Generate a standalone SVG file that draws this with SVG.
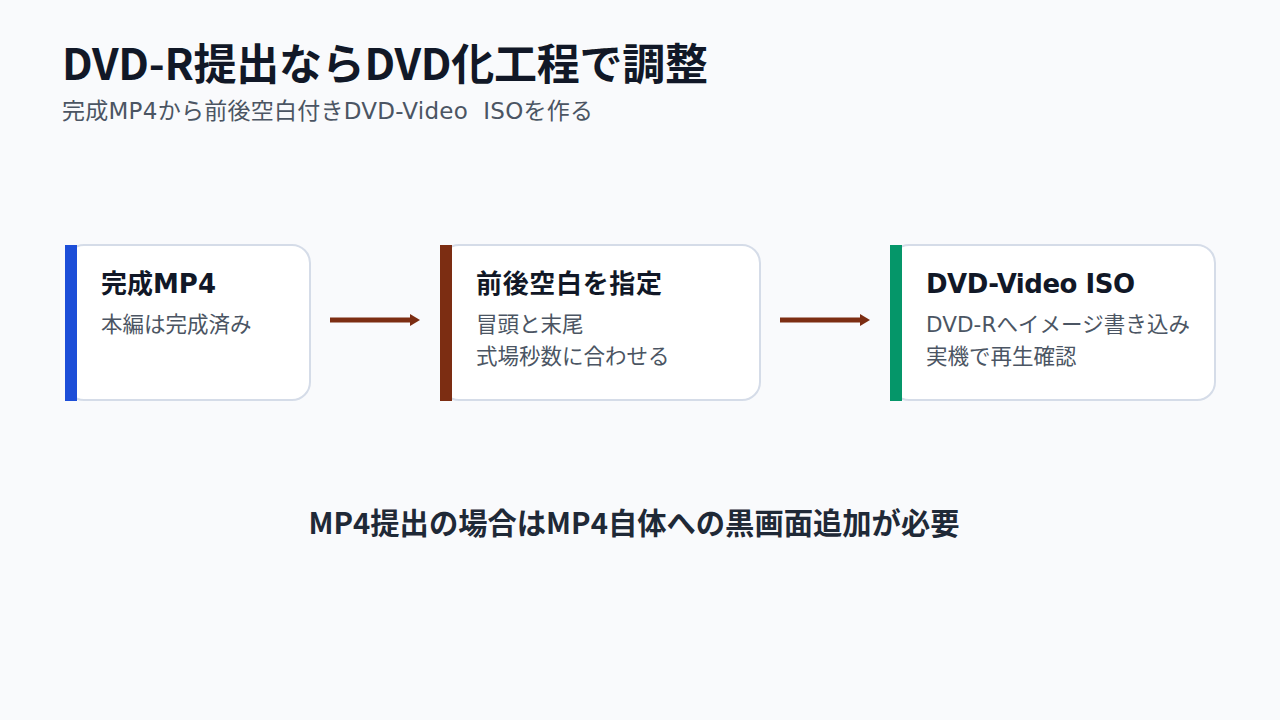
<svg xmlns="http://www.w3.org/2000/svg" width="1280" height="720" viewBox="0 0 1280 720">
<style>
text{font-family:"Noto Sans CJK JP","Noto Sans",sans-serif}
.title{font-size:43px;font-weight:700;fill:#111827}
.sub{font-family:"DejaVu Sans","Noto Sans CJK JP",sans-serif;font-size:23px;fill:#4b5563;white-space:pre}
.card{fill:#ffffff;stroke:#d5dce8;stroke-width:2}
.ht{font-family:"DejaVu Sans","Noto Sans CJK JP",sans-serif;font-size:26px;font-weight:700;fill:#111827}
.bt{font-family:"DejaVu Sans","Noto Sans CJK JP",sans-serif;font-size:21.5px;fill:#4b5563}
.note{font-size:29.3px;font-weight:700;fill:#1f2937}
.conn{stroke:#7c2d12;stroke-width:5;fill:none}
</style>
<defs>
<marker id="ah" markerWidth="2" markerHeight="2.4" refX="0" refY="1.2" orient="auto" markerUnits="strokeWidth" viewBox="0 0 2 2.4"><path d="M0,0L2,1.2L0,2.4z" fill="#7c2d12"/></marker>
</defs>
<rect width="1280" height="720" fill="#f9fafc"/>
<text class="title" x="62" y="80" textLength="646" lengthAdjust="spacing">DVD-R提出ならDVD化工程で調整</text>
<text class="sub" x="62" y="119" textLength="531" lengthAdjust="spacing">完成MP4から前後空白付きDVD-Video  ISOを作る</text>
<g id="node1">
<rect class="card" x="66" y="245" width="244" height="155" rx="18"/>
<rect x="65" y="245" width="12" height="156" fill="#1d4ed8"/>
<text class="ht" x="101" y="293">完成MP4</text>
<text class="bt" x="101" y="332">本編は完成済み</text>
</g>
<g id="node2">
<rect class="card" x="441" y="245" width="319" height="155" rx="18"/>
<rect x="440" y="245" width="12" height="156" fill="#7c2d12"/>
<text class="ht" x="476" y="293" textLength="186" lengthAdjust="spacing">前後空白を指定</text>
<text class="bt" x="476" y="332">冒頭と末尾</text>
<text class="bt" x="476" y="364">式場秒数に合わせる</text>
</g>
<g id="node3">
<rect class="card" x="891" y="245" width="324" height="155" rx="18"/>
<rect x="890" y="245" width="12" height="156" fill="#059669"/>
<text class="ht" x="926" y="293" textLength="209" lengthAdjust="spacing">DVD-Video ISO</text>
<text class="bt" x="926" y="332" textLength="264" lengthAdjust="spacing">DVD-Rへイメージ書き込み</text>
<text class="bt" x="926" y="364">実機で再生確認</text>
</g>
<g id="connectors">
<line class="conn" x1="330" y1="320" x2="410" y2="320" marker-end="url(#ah)"/>
<line class="conn" x1="780" y1="320" x2="860" y2="320" marker-end="url(#ah)"/>
</g>
<text class="note" x="634" y="534" text-anchor="middle">MP4提出の場合はMP4自体への黒画面追加が必要</text>
</svg>
